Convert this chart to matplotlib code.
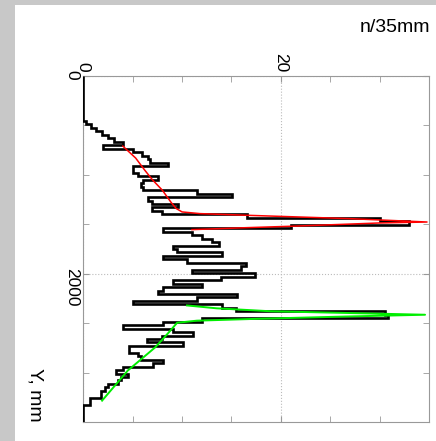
import matplotlib
matplotlib.use("Agg")
import matplotlib.pyplot as plt
import matplotlib.patches as patches
import numpy as np

plt.rcParams['font.family'] = ['Liberation Sans', 'DejaVu Sans']

# histogram: counts per 35 mm bin along Y
bin_width = 35
counts = [0, 0, 0, 0, 0, 0, 0, 0, 0, 0,
          0, 0, 0, 0.3, 0.8, 1.3, 1.9, 2.5, 3.1, 4.0,
          2.0, 5.0, 5.9, 6.5, 6.8, 8.6, 5.0, 5.0, 5.5, 7.6,
          6.0, 5.8, 6.0, 11.5, 15.1, 6.5, 7.0, 9.6, 7.0, 8.0,
          16.6, 30.0, 33.0, 21.0, 8.1, 11.0, 12.0, 13.0, 13.7, 9.1,
          9.5, 14.0, 8.1, 10.5, 16.5, 16.0, 11.0, 17.4, 13.9, 9.1,
          12.0, 8.1, 7.6, 15.6, 11.5, 5.0, 14.0, 15.5, 30.5, 30.8,
          12.0, 8.1, 4.0, 9.1, 11.1, 8.0, 6.4, 10.1, 4.6, 4.6,
          5.5, 5.8, 8.1, 7.1, 4.0, 3.3, 4.5, 3.8, 3.5, 2.5,
          2.2, 1.8, 1.8, 0.7, 0.7, 0, 0, 0, 0, 0]

# fitted curves (Y in mm, n)
red_y = [709, 830, 950, 1050, 1155, 1280, 1340, 1375, 1392, 1409, 1443, 1477, 1487, 1520, 1534, 1554]
red_n = [4.0, 5.3, 6.2, 7.0, 8.0, 8.9, 9.4, 10.0, 11.8, 16.6, 27.0, 34.8, 29.9, 21.0, 16.6, 11.0]

green_y = [2321, 2350, 2380, 2400, 2415, 2432, 2455, 2475, 2496, 2600, 2743, 2980, 3284]
green_n = [10.5, 13.5, 19.0, 28.0, 34.6, 27.0, 18.0, 11.5, 9.5, 8.6, 7.3, 4.5, 1.9]

W, H = 436, 441
fig = plt.figure(figsize=(W / 100, H / 100), dpi=100)
fig.patch.set_facecolor('#c8c8c8')
fig.add_artist(patches.Rectangle((15 / W, 0), 1, (H - 5) / H, transform=fig.transFigure,
                                 facecolor='white', edgecolor='none', zorder=-1))

ax = fig.add_axes([83.3 / W, (H - 422) / H, (429 - 83.3) / W, (422 - 76) / H])

edges = np.arange(len(counts) + 1) * bin_width
ax.stairs(counts, edges, orientation='horizontal', color='black', linewidth=1.9, zorder=3)
ax.plot(red_n, red_y, color='#ff0000', linewidth=1.1, zorder=4)
ax.plot(green_n, green_y, color='#00ee00', linewidth=1.4, zorder=4)

ax.set_xlim(0, 35)
ax.set_ylim(3500, 0)
ax.xaxis.tick_top()
ax.set_xticks([0, 20])
ax.set_xticks(np.arange(0, 36, 5), minor=True)
ax.set_yticks([0, 2000])
ax.set_yticks(np.arange(0, 3501, 500), minor=True)
ax.tick_params(which='both', direction='in', length=4, color='#999999',
               top=True, bottom=True, left=True, right=True, labelsize=12.5)
ax.tick_params(axis='x', labelrotation=-90, pad=3)
ax.tick_params(axis='y', labelrotation=-90, pad=3)
for s in ax.spines.values():
    s.set_color('#999999')
ax.grid(True, which='major', linestyle=':', color='#bbbbbb', linewidth=0.8)

fig.text(430 / W, 1 - 28 / H, 'n/35mm', ha='right', va='center', fontsize=14)
fig.text(35 / W, 1 - 395 / H, 'Y, mm', ha='center', va='center', rotation=-90, fontsize=14)

fig.savefig('out.png', dpi=100)
